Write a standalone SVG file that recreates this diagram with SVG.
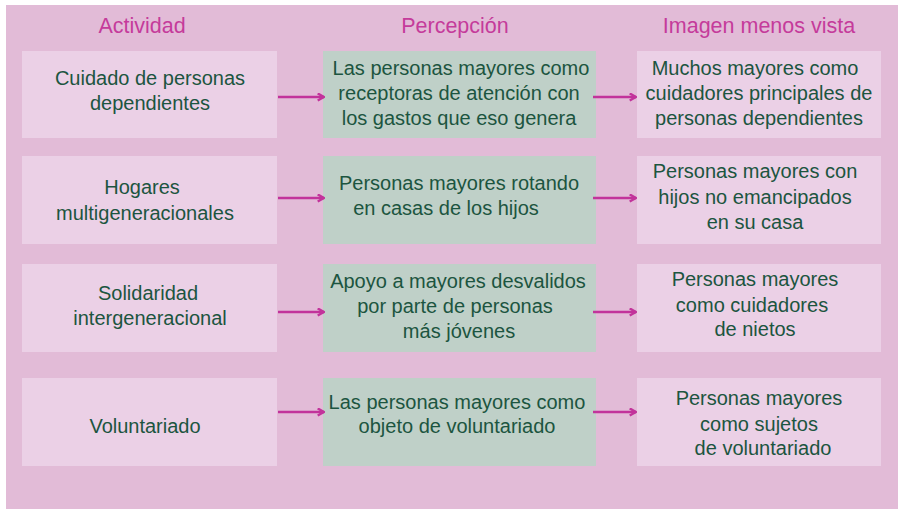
<svg xmlns="http://www.w3.org/2000/svg" width="898" height="509" viewBox="0 0 898 509">
<defs>
<style>
.bg{fill:#e2bbd7}
.lt{fill:#ebd0e6}
.gr{fill:#bfd0c8}
.hd{font-family:"Liberation Sans",Arial,sans-serif;font-size:21.5px;fill:#c53b9b;text-anchor:middle}
.tx{font-family:"Liberation Sans",Arial,sans-serif;font-size:20px;fill:#1c5540;text-anchor:middle}
.ar{stroke:#c2339b;stroke-width:2.5;fill:none;marker-end:url(#ah)}
</style>
<marker id="ah" viewBox="0 0 10 10" refX="9" refY="5" markerWidth="3.6" markerHeight="3.6" orient="auto" markerUnits="strokeWidth">
<path d="M2,1 L9,5 L2,9" fill="none" stroke="#c2339b" stroke-width="2.6"/>
</marker>
</defs>
<rect x="0" y="0" width="898" height="509" fill="#ffffff"/>
<rect class="bg" x="6" y="5" width="892" height="504"/>
<g id="headers">
<text class="hd" x="142" y="33">Actividad</text>
<text class="hd" x="455" y="33">Percepción</text>
<text class="hd" x="759" y="33">Imagen menos vista</text>
</g>
<g id="n1a"><rect class="lt" x="22" y="51" width="255" height="87"/>
<text class="tx" x="150" y="85">Cuidado de personas</text><text class="tx" x="150" y="110">dependientes</text></g>
<g id="n1b"><rect class="gr" x="323" y="51" width="273" height="87"/>
<text class="tx" x="461" y="75">Las personas mayores como</text><text class="tx" x="459" y="100">receptoras de atención con</text><text class="tx" x="459" y="125">los gastos que eso genera</text></g>
<g id="n1c"><rect class="lt" x="637" y="51" width="244" height="87"/>
<text class="tx" x="755" y="75">Muchos mayores como</text><text class="tx" x="759" y="100">cuidadores principales de</text><text class="tx" x="759" y="125">personas dependientes</text></g>
<g id="n2a"><rect class="lt" x="22" y="156" width="255" height="88"/>
<text class="tx" x="142" y="194">Hogares</text><text class="tx" x="145" y="220">multigeneracionales</text></g>
<g id="n2b"><rect class="gr" x="323" y="156" width="273" height="88"/>
<text class="tx" x="459" y="190">Personas mayores rotando</text><text class="tx" x="446" y="215">en casas de los hijos</text></g>
<g id="n2c"><rect class="lt" x="637" y="156" width="244" height="88"/>
<text class="tx" x="755" y="178">Personas mayores con</text><text class="tx" x="755" y="204">hijos no emancipados</text><text class="tx" x="755" y="229">en su casa</text></g>
<g id="n3a"><rect class="lt" x="22" y="264" width="255" height="88"/>
<text class="tx" x="148" y="300">Solidaridad</text><text class="tx" x="150" y="325">intergeneracional</text></g>
<g id="n3b"><rect class="gr" x="323" y="264" width="273" height="88"/>
<text class="tx" x="458" y="288">Apoyo a mayores desvalidos</text><text class="tx" x="455" y="313">por parte de personas</text><text class="tx" x="459" y="338">más jóvenes</text></g>
<g id="n3c"><rect class="lt" x="637" y="264" width="244" height="88"/>
<text class="tx" x="755" y="286">Personas mayores</text><text class="tx" x="752" y="312">como cuidadores</text><text class="tx" x="755" y="336">de nietos</text></g>
<g id="n4a"><rect class="lt" x="22" y="378" width="255" height="88"/>
<text class="tx" x="145" y="433">Voluntariado</text></g>
<g id="n4b"><rect class="gr" x="323" y="378" width="273" height="88"/>
<text class="tx" x="457" y="409">Las personas mayores como</text><text class="tx" x="457" y="433">objeto de voluntariado</text></g>
<g id="n4c"><rect class="lt" x="637" y="378" width="244" height="88"/>
<text class="tx" x="759" y="405">Personas mayores</text><text class="tx" x="759" y="431">como sujetos</text><text class="tx" x="763" y="455">de voluntariado</text></g>
<g id="connectors">
<line class="ar" x1="278" y1="97" x2="324" y2="97"/>
<line class="ar" x1="593" y1="97" x2="636" y2="97"/>
<line class="ar" x1="278" y1="198" x2="324" y2="198"/>
<line class="ar" x1="593" y1="198" x2="636" y2="198"/>
<line class="ar" x1="278" y1="312" x2="324" y2="312"/>
<line class="ar" x1="593" y1="312" x2="636" y2="312"/>
<line class="ar" x1="278" y1="412" x2="324" y2="412"/>
<line class="ar" x1="593" y1="412" x2="636" y2="412"/>
</g>
</svg>
